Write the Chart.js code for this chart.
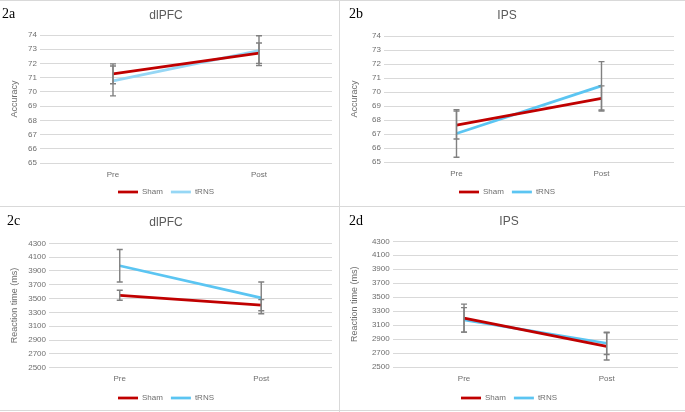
<!DOCTYPE html>
<html>
<head>
<meta charset="utf-8">
<script src="https://cdn.jsdelivr.net/npm/chart.js@4.4.1/dist/chart.umd.min.js"></script>
<style>
  body { margin: 0; background: #fff; }
  #fig { position: relative; width: 685px; height: 412px; background: #fff; overflow: hidden; }
  #fig canvas { position: absolute; }
  .rule { position: absolute; background: #d9d9d9; }
  .tag { position: absolute; font-family: "Liberation Serif", "DejaVu Serif", serif; font-size: 14px; line-height: 14px; color: #000; }
</style>
</head>
<body>
<div id="fig">
  <canvas id="c2a" width="339" height="206" style="left:0;top:0"></canvas>
  <canvas id="c2b" width="345" height="206" style="left:340px;top:0"></canvas>
  <canvas id="c2c" width="339" height="205" style="left:0;top:207px"></canvas>
  <canvas id="c2d" width="345" height="205" style="left:340px;top:207px"></canvas>

  <div class="rule" style="left:0;top:0;width:685px;height:1px"></div>
  <div class="rule" style="left:0;top:206px;width:685px;height:1px"></div>
  <div class="rule" style="left:0;top:410px;width:685px;height:1px"></div>
  <div class="rule" style="left:339px;top:0;width:1px;height:412px"></div>

  <div class="tag" style="left:2px;top:7px">2a</div>
  <div class="tag" style="left:349px;top:7px">2b</div>
  <div class="tag" style="left:7px;top:214px">2c</div>
  <div class="tag" style="left:349px;top:214px">2d</div>
</div>

<script>
const categories = ['Pre', 'Post'];

// accuracy, dlPFC
const accDlpfcSham = [71.27, 72.72];
const accDlpfcShamErr = [0.7, 0.72];
const accDlpfcTrns = [70.77, 72.9];
const accDlpfcTrnsErr = [1.05, 1.05];

// accuracy, IPS
const accIpsSham = [67.64, 69.54];
const accIpsShamErr = [1.0, 0.9];
const accIpsTrns = [67.04, 70.44];
const accIpsTrnsErr = [1.7, 1.73];

// reaction time, dlPFC
const rtDlpfcSham = [3548, 3405];
const rtDlpfcShamErr = [72, 80];
const rtDlpfcTrns = [3975, 3510];
const rtDlpfcTrnsErr = [235, 230];

// reaction time, IPS
const rtIpsSham = [3200, 2795];
const rtIpsShamErr = [200, 195];
const rtIpsTrns = [3175, 2840];
const rtIpsTrnsErr = [175, 160];

const accTicks = { min: 65, max: 74, step: 1 };
const rtTicks = { min: 2500, max: 4300, step: 200 };

const RED = '#C00000';
const BLUE = '#5BC5F2';
const PALE_BLUE = '#96D7F5';
const GREY_TEXT = '#6e6e6e';
const FONT = "'Liberation Sans', Arial, sans-serif";

// draws the +/- bars on top of the lines
const errorBars = {
    id: 'errorBars',
    afterDatasetsDraw(chart) {
        const ctx = chart.ctx;
        const yScale = chart.scales.y;
        ctx.save();
        ctx.strokeStyle = '#808080';
        ctx.lineWidth = 1.4;
        chart.data.datasets.forEach((ds, i) => {
            const meta = chart.getDatasetMeta(i);
            meta.data.forEach((pt, j) => {
                const top = yScale.getPixelForValue(ds.data[j] + ds.errors[j]);
                const bot = yScale.getPixelForValue(ds.data[j] - ds.errors[j]);
                ctx.beginPath();
                ctx.moveTo(pt.x, top);
                ctx.lineTo(pt.x, bot);
                ctx.moveTo(pt.x - 3, top);
                ctx.lineTo(pt.x + 3, top);
                ctx.moveTo(pt.x - 3, bot);
                ctx.lineTo(pt.x + 3, bot);
                ctx.stroke();
            });
        });
        ctx.restore();
    }
};

function makePanel(id, p) {
    const ctx = document.getElementById(id).getContext('2d');
    return new Chart(ctx, {
        type: 'line',
        data: {
            labels: categories,
            datasets: [
                { label: 'Sham', data: p.sham, errors: p.shamErr, borderColor: RED, backgroundColor: RED, borderWidth: 2.75, pointRadius: 0 },
                { label: 'tRNS', data: p.trns, errors: p.trnsErr, borderColor: p.blue, backgroundColor: p.blue, borderWidth: 2.75, pointRadius: 0 }
            ]
        },
        options: {
            responsive: false,
            animation: false,
            layout: { padding: { left: 0, right: p.padRight, top: 0, bottom: 0 } },
            plugins: {
                title: {
                    display: true, text: p.title, color: '#595959',
                    font: { family: FONT, size: 12, weight: 'normal' },
                    padding: { top: p.titleTop, bottom: p.titleBottom }
                },
                legend: {
                    position: 'bottom',
                    labels: {
                        usePointStyle: true, pointStyle: 'line', pointStyleWidth: 20,
                        color: GREY_TEXT, padding: 8,
                        font: { family: FONT, size: 8 }
                    }
                },
                tooltip: { enabled: false }
            },
            scales: {
                x: {
                    offset: true,
                    grid: { display: false, drawTicks: false },
                    border: { display: false },
                    ticks: { color: GREY_TEXT, padding: 6.5, font: { family: FONT, size: 8 } },
                    afterFit(scale) { scale.height = p.xHeight; }
                },
                y: {
                    min: p.ticks.min, max: p.ticks.max,
                    grid: { color: '#d9d9d9', lineWidth: 1, drawTicks: false },
                    border: { display: false },
                    ticks: {
                        stepSize: p.ticks.step, color: GREY_TEXT, padding: 3,
                        font: { family: FONT, size: 8 },
                        callback: v => String(v)
                    },
                    title: {
                        display: true, text: p.yTitle, color: GREY_TEXT,
                        font: { family: FONT, size: 9 },
                        padding: { top: 9.6, bottom: 0 }
                    },
                    afterFit(scale) { scale.width = p.yWidth; }
                }
            }
        },
        plugins: [errorBars]
    });
}

makePanel('c2a', {
    title: 'dlPFC', yTitle: 'Accuracy', ticks: accTicks, blue: PALE_BLUE,
    sham: accDlpfcSham, shamErr: accDlpfcShamErr, trns: accDlpfcTrns, trnsErr: accDlpfcTrnsErr,
    yWidth: 40, padRight: 7, titleTop: 8.8, titleBottom: 11.8, xHeight: 17
});
makePanel('c2b', {
    title: 'IPS', yTitle: 'Accuracy', ticks: accTicks, blue: BLUE,
    sham: accIpsSham, shamErr: accIpsShamErr, trns: accIpsTrns, trnsErr: accIpsTrnsErr,
    yWidth: 44, padRight: 11, titleTop: 8.8, titleBottom: 12.8, xHeight: 18
});
makePanel('c2c', {
    title: 'dlPFC', yTitle: 'Reaction time (ms)', ticks: rtTicks, blue: BLUE,
    sham: rtDlpfcSham, shamErr: rtDlpfcShamErr, trns: rtDlpfcTrns, trnsErr: rtDlpfcTrnsErr,
    yWidth: 49, padRight: 7, titleTop: 8.8, titleBottom: 13.1, xHeight: 18.3
});
makePanel('c2d', {
    title: 'IPS', yTitle: 'Reaction time (ms)', ticks: rtTicks, blue: BLUE,
    sham: rtIpsSham, shamErr: rtIpsShamErr, trns: rtIpsTrns, trnsErr: rtIpsTrnsErr,
    yWidth: 52.7, padRight: 7, titleTop: 7.8, titleBottom: 12.1, xHeight: 19
});
</script>
</body>
</html>
